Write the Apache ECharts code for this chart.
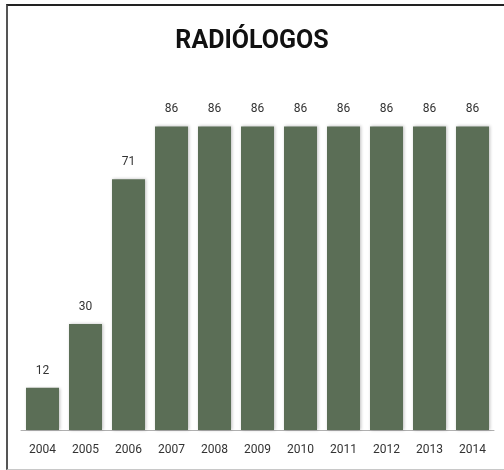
<!DOCTYPE html>
<html>
<head>
<meta charset="utf-8">
<script src="https://cdn.jsdelivr.net/npm/echarts@6/dist/echarts.min.js"></script>
<style>
  html, body { margin: 0; padding: 0; background: #fff; }
  #frame {
    position: absolute; left: 6px; top: 4px; width: 510px; height: 463px;
    border-left: 2px solid #555; border-top: 2px solid #222; border-bottom: 1px solid #c8c8c8;
  }
  #main { position: absolute; left: 0; top: 0; width: 504px; height: 470px; }
</style>
</head>
<body>
<div id="frame"></div>
<div id="main"></div>
<script>
var years = ['2004', '2005', '2006', '2007', '2008', '2009', '2010', '2011', '2012', '2013', '2014'];
var radiologos = [12, 30, 71, 86, 86, 86, 86, 86, 86, 86, 86];

var chart = echarts.init(document.getElementById('main'));
chart.setOption({
    animation: false,
    title: {
        text: 'RADIÓLOGOS',
        left: 'center',
        top: 24,
        textStyle: { fontFamily: 'Roboto', fontWeight: 'bold', fontSize: 25, color: '#111' }
    },
    grid: { left: 21, right: 10, top: 77, bottom: 40 },
    xAxis: {
        type: 'category',
        data: years,
        axisLine: { lineStyle: { color: '#b0b0b0', width: 1 } },
        axisTick: { show: false },
        axisLabel: { color: '#333', fontFamily: 'Roboto', fontSize: 12, margin: 14 }
    },
    yAxis: {
        type: 'value',
        min: 0,
        max: 100,
        show: false,
        splitLine: { show: false }
    },
    series: [{
        type: 'bar',
        data: radiologos,
        barWidth: 33,
        itemStyle: {
            color: '#5b6e56',
            shadowColor: 'rgba(0,0,0,0.25)',
            shadowBlur: 3,
            shadowOffsetX: 1
        },
        label: {
            show: true,
            position: 'top',
            distance: 11,
            color: '#333',
            fontFamily: 'Roboto',
            fontSize: 12
        }
    }]
});
</script>
</body>
</html>
